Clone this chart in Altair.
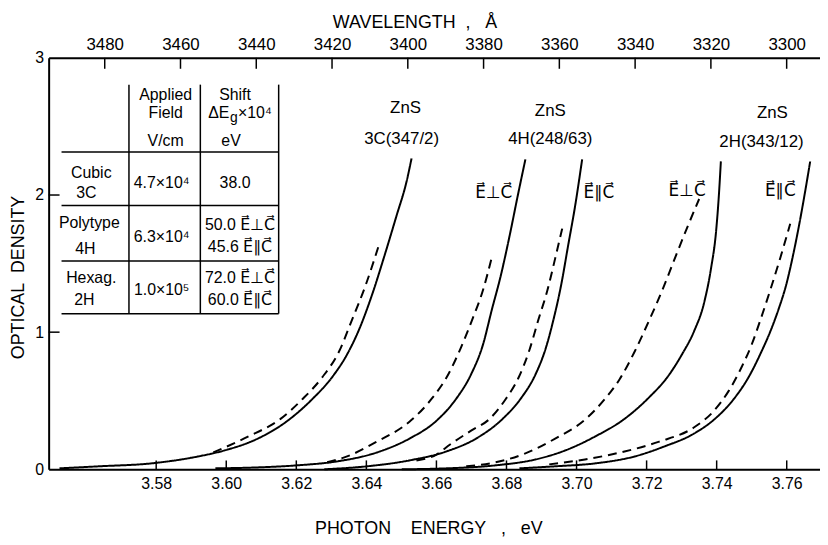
import altair as alt
import pandas as pd

# ---------------- data ----------------
# photon energy (eV) / optical density for each curve
e_3c_solid = [3.5524, 3.5637, 3.5785, 3.5920, 3.5994, 3.6090, 3.6175, 3.6246, 3.6302, 3.6345, 3.6379, 3.6416, 3.6452, 3.6486, 3.6515, 3.6529]
od_3c_solid = [0.007, 0.022, 0.043, 0.094, 0.137, 0.224, 0.354, 0.513, 0.671, 0.838, 1.018, 1.271, 1.560, 1.848, 2.101, 2.267]
e_3c_dash = [3.5963, 3.6062, 3.6155, 3.6218, 3.6274, 3.6322, 3.6359, 3.6396, 3.6438]
od_3c_dash = [0.123, 0.238, 0.368, 0.513, 0.671, 0.859, 1.090, 1.329, 1.653]

e_4h_perp_solid = [3.5969, 3.6090, 3.6203, 3.6317, 3.6430, 3.6523, 3.6600, 3.6656, 3.6699, 3.6733, 3.6758, 3.6784, 3.6809, 3.6832, 3.6854]
od_4h_perp_solid = [0.007, 0.014, 0.029, 0.058, 0.123, 0.224, 0.354, 0.513, 0.693, 0.910, 1.162, 1.415, 1.704, 1.993, 2.260]
e_4h_perp_dash = [3.6288, 3.6345, 3.6430, 3.6523, 3.6586, 3.6634, 3.6670, 3.6702, 3.6733, 3.6758]
od_4h_perp_dash = [0.051, 0.094, 0.202, 0.347, 0.513, 0.693, 0.888, 1.090, 1.307, 1.545]

e_4h_par_solid = [3.6280, 3.6402, 3.6523, 3.6628, 3.6713, 3.6789, 3.6840, 3.6883, 3.6911, 3.6934, 3.6956, 3.6976, 3.6996, 3.7016]
od_4h_par_solid = [0.0, 0.022, 0.065, 0.130, 0.224, 0.368, 0.513, 0.693, 0.874, 1.090, 1.343, 1.632, 1.921, 2.260]
e_4h_par_dash = [3.6543, 3.6600, 3.6639, 3.6699, 3.6752, 3.6798, 3.6835, 3.6866, 3.6891, 3.6917, 3.6939, 3.6959]
od_4h_par_dash = [0.065, 0.108, 0.181, 0.282, 0.368, 0.513, 0.671, 0.874, 1.090, 1.307, 1.538, 1.755]

e_2h_perp_solid = [3.6501, 3.6628, 3.6769, 3.6883, 3.6967, 3.7052, 3.7137, 3.7208, 3.7259, 3.7301, 3.7335, 3.7364, 3.7384, 3.7398, 3.7406, 3.7412]
od_2h_perp_solid = [0.0, 0.007, 0.029, 0.072, 0.137, 0.238, 0.368, 0.527, 0.671, 0.838, 1.004, 1.213, 1.466, 1.726, 1.986, 2.245]
e_2h_perp_dash = [3.6685, 3.6769, 3.6854, 3.6939, 3.7027, 3.7081, 3.7123, 3.7166, 3.7208, 3.7245, 3.7284, 3.7318, 3.7350]
od_2h_perp_dash = [0.022, 0.051, 0.116, 0.224, 0.368, 0.513, 0.657, 0.859, 1.090, 1.307, 1.560, 1.776, 1.971]

e_2h_par_solid = [3.6837, 3.6939, 3.7052, 3.7166, 3.7250, 3.7335, 3.7395, 3.7449, 3.7491, 3.7528, 3.7553, 3.7576, 3.7599, 3.7618, 3.7635, 3.7652, 3.7667]
od_2h_par_solid = [0.007, 0.022, 0.043, 0.094, 0.166, 0.260, 0.368, 0.513, 0.671, 0.859, 1.004, 1.162, 1.350, 1.560, 1.776, 2.017, 2.245]
e_2h_par_dash = [3.6922, 3.7024, 3.7137, 3.7236, 3.7338, 3.7392, 3.7434, 3.7471, 3.7500, 3.7525, 3.7553, 3.7582, 3.7610]
od_2h_par_dash = [0.036, 0.072, 0.130, 0.202, 0.310, 0.426, 0.570, 0.744, 0.910, 1.090, 1.307, 1.545, 1.791]

energy_ticks = [3.58, 3.60, 3.62, 3.64, 3.66, 3.68, 3.70, 3.72, 3.74, 3.76]
wavelength_ticks = [3480, 3460, 3440, 3420, 3400, 3380, 3360, 3340, 3320, 3300]
od_ticks = [0, 1, 2, 3]

# ---------------- build tables ----------------
series = [
    ("3C", "solid", e_3c_solid, od_3c_solid),
    ("3C d", "dashed", e_3c_dash, od_3c_dash),
    ("4H perp", "solid", e_4h_perp_solid, od_4h_perp_solid),
    ("4H perp d", "dashed", e_4h_perp_dash, od_4h_perp_dash),
    ("4H par", "solid", e_4h_par_solid, od_4h_par_solid),
    ("4H par d", "dashed", e_4h_par_dash, od_4h_par_dash),
    ("2H perp", "solid", e_2h_perp_solid, od_2h_perp_solid),
    ("2H perp d", "dashed", e_2h_perp_dash, od_2h_perp_dash),
    ("2H par", "solid", e_2h_par_solid, od_2h_par_solid),
    ("2H par d", "dashed", e_2h_par_dash, od_2h_par_dash),
]
rows = []
for name, style, es, ods in series:
    for e, o in zip(es, ods):
        rows.append({"curve": name, "style": style, "E": e, "OD": o})
curves_df = pd.DataFrame(rows)

W, H = 778, 415
EDOM = [3.5493, 3.7695]
LDOM = [3291.2, 3494.8]
FONT = "Liberation Sans"
SYMFONT = "Liberation Sans, DejaVu Sans"
NB = "\u00a0"

ex = alt.Scale(domain=EDOM, nice=False, zero=False)
lx = alt.Scale(domain=LDOM, nice=False, zero=False, reverse=True)
ys = alt.Scale(domain=[0, 3], nice=False, zero=False)

curves = alt.Chart(curves_df).mark_line(color="black", strokeWidth=2, interpolate="monotone").encode(
    x=alt.X("E:Q", scale=ex, axis=alt.Axis(
        orient="bottom", values=energy_ticks, format=".2f", tickSize=0, labelPadding=6,
        labelFontSize=16, labelColor="black", domainColor="black", domainWidth=2, grid=False,
        title="PHOTON" + NB * 4 + "ENERGY" + NB * 3 + "," + NB * 3 + "eV", titleFontSize=18, titleFontWeight="normal",
        titleX=383, titleY=60, titleAlign="center", titleBaseline="middle")),
    y=alt.Y("OD:Q", scale=ys, axis=alt.Axis(
        values=od_ticks, format="d", tickSize=0, labelPadding=5, labelFontSize=16,
        labelColor="black", domainColor="black", domainWidth=2, grid=False,
        title="OPTICAL" + NB * 2 + "DENSITY", titleFontSize=18, titleFontWeight="normal",
        titleX=-30, titleY=221, titleAlign="center", titleBaseline="middle")),
    detail="curve:N",
    strokeDash=alt.StrokeDash("style:N", scale=alt.Scale(domain=["solid", "dashed"], range=[[1, 0], [9, 6]]), legend=None),
)

# inward tick marks
bottom_ticks = alt.Chart(pd.DataFrame({"E": energy_ticks})).mark_rule(color="black", strokeWidth=1.5).encode(
    x=alt.X("E:Q", scale=ex, axis=None), y=alt.value(H), y2=alt.value(H - 9))

left_ticks = alt.Chart(pd.DataFrame({"OD": od_ticks[1:3]})).mark_rule(color="black", strokeWidth=1.5).encode(
    y=alt.Y("OD:Q", scale=ys, axis=None), x=alt.value(0), x2=alt.value(11))

top_axis = alt.Chart(pd.DataFrame({"lam": wavelength_ticks})).mark_rule(color="black", strokeWidth=1.5).encode(
    x=alt.X("lam:Q", scale=lx, axis=alt.Axis(
        orient="top", values=wavelength_ticks, format="d", tickSize=0, labelPadding=4,
        labelFontSize=17, labelColor="black", domainColor="black", domainWidth=2, grid=False,
        title="WAVELENGTH" + NB * 2 + "," + NB * 3 + "Å", titleFontSize=18, titleFontWeight="normal",
        titleX=369, titleY=-36, titleAlign="center", titleBaseline="middle")),
    y=alt.value(0), y2=alt.value(11))

# ---------------- table (annotation) ----------------
tbl_v = pd.DataFrame({"x": [81, 153, 232], "y1": [27, 27, 27], "y2": [258, 258, 258]})
tbl_h = pd.DataFrame({"y": [95, 149, 205, 258], "x1": [13, 13, 13, 13], "x2": [232, 232, 232, 232]})
vlines = alt.Chart(tbl_v).mark_rule(color="black", strokeWidth=1.5).encode(
    x=alt.X("x:Q", scale=None, axis=None), y=alt.Y("y1:Q", scale=None, axis=None), y2="y2:Q")
hlines = alt.Chart(tbl_h).mark_rule(color="black", strokeWidth=1.5).encode(
    y=alt.Y("y:Q", scale=None, axis=None), x=alt.X("x1:Q", scale=None, axis=None), x2="x2:Q")

A = "\u20d7"
perp = "E" + A + "\u22a5C" + A
par = "E" + A + "\u2225C" + A

table_text = [
    ("Applied", 118, 37, "center", 16, FONT),
    ("Field", 118, 56, "center", 16, FONT),
    ("V/cm", 118, 84, "center", 16, FONT),
    ("Shift", 188, 37, "center", 16, FONT),
    ("ΔE", 161, 56, "left", 16, FONT),
    ("g", 183, 61, "left", 14, FONT),
    ("×10⁴", 191, 56, "left", 16, FONT),
    ("eV", 184, 84, "center", 16, FONT),
    ("Cubic", 43, 116, "center", 16, FONT),
    ("3C", 38, 136, "center", 16, FONT),
    ("4.7×10⁴", 114, 126, "center", 16, FONT),
    ("38.0", 188, 126, "center", 16, FONT),
    ("Polytype", 41, 167, "center", 16, FONT),
    ("4H", 37, 193, "center", 16, FONT),
    ("6.3×10⁴", 114, 181, "center", 16, FONT),
    ("50.0 " + perp, 193, 169, "center", 16, SYMFONT),
    ("45.6 " + par, 193, 191, "center", 16, SYMFONT),
    ("Hexag.", 43, 222, "center", 16, FONT),
    ("2H", 36, 244, "center", 16, FONT),
    ("1.0×10⁵", 114, 234, "center", 16, FONT),
    ("72.0 " + perp, 193, 222, "center", 16, SYMFONT),
    ("60.0 " + par, 193, 244, "center", 16, SYMFONT),
    # curve labels
    ("ZnS", 360, 51, "center", 17, FONT),
    ("3C(347/2)", 356, 82, "center", 17, FONT),
    ("ZnS", 506, 54, "center", 17, FONT),
    ("4H(248/63)", 506, 82, "center", 17, FONT),
    ("ZnS", 730, 56, "center", 17, FONT),
    ("2H(343/12)", 719, 85, "center", 17, FONT),
    (perp, 449, 136, "center", 17, SYMFONT),
    (par, 555, 136, "center", 17, SYMFONT),
    (perp, 644, 134, "center", 17, SYMFONT),
    (par, 738, 134, "center", 17, SYMFONT),
]
tt = pd.DataFrame(table_text, columns=["t", "x", "y", "a", "s", "f"])
texts = []
for (al, sz, fn), g in tt.groupby(["a", "s", "f"]):
    texts.append(alt.Chart(g).mark_text(align=al, baseline="middle", fontSize=int(sz), color="black", font=fn).encode(
        x=alt.X("x:Q", scale=None, axis=None), y=alt.Y("y:Q", scale=None, axis=None), text="t:N"))

chart = alt.layer(curves, bottom_ticks, left_ticks, top_axis, vlines, hlines, *texts).resolve_scale(
    x="independent", y="independent"
).properties(
    width=W, height=H,
    autosize=alt.AutoSizeParams(type="none"),
    padding={"left": 41, "top": 48, "right": 0, "bottom": 70},
).configure_view(stroke=None).configure_axis(
    labelFont=FONT, titleFont=FONT
).configure(background="white")

chart.save("out.html", embed_options={"renderer": "svg", "actions": False})
